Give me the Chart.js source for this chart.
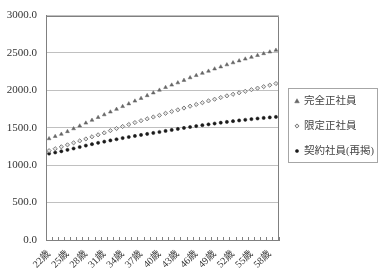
<!DOCTYPE html>
<html><head><meta charset="utf-8">
<script src="https://cdn.jsdelivr.net/npm/chart.js@4/dist/chart.umd.min.js"></script>
<style>html,body{margin:0;padding:0;background:#fff}canvas{display:block}</style>
</head><body>
<canvas id="c" width="380" height="272"></canvas>
<script>
const categories = ["22歳","23歳","24歳","25歳","26歳","27歳","28歳","29歳","30歳","31歳","32歳","33歳","34歳","35歳","36歳","37歳","38歳","39歳","40歳","41歳","42歳","43歳","44歳","45歳","46歳","47歳","48歳","49歳","50歳","51歳","52歳","53歳","54歳","55歳","56歳","57歳","58歳","59歳"];
const seriesNames = ["完全正社員","限定正社員","契約社員(再掲)"];
const fullRegular = [1355,1385,1415,1450,1488,1525,1564,1602,1639,1675,1712,1748,1785,1821,1858,1894,1931,1967,2004,2040,2072,2102,2135,2170,2200,2230,2258,2288,2315,2343,2370,2396,2420,2444,2468,2492,2515,2538];
const limitedRegular = [1194,1220,1246,1272,1299,1325,1351,1380,1406,1432,1462,1490,1518,1544,1570,1595,1620,1644,1667,1694,1718,1740,1764,1789,1812,1835,1860,1882,1905,1927,1948,1968,1988,2010,2030,2050,2070,2092];
const contractStaff = [1155,1170,1186,1205,1223,1243,1262,1281,1299,1315,1331,1347,1363,1377,1391,1405,1418,1431,1444,1458,1471,1485,1498,1511,1523,1535,1546,1557,1568,1579,1589,1598,1607,1616,1624,1632,1639,1646];
const yTicks = [0,500,1000,1500,2000,2500,3000];

const serif = '"Liberation Serif", "DejaVu Serif", "Noto Sans CJK JP", serif';

const styles = [
  {pointStyle:'triangle', radius:2.2, bg:'#666', border:'#666', bw:0.5},
  {pointStyle:'rectRot', radius:2.1, bg:'#e6e6e6', border:'#7a7a7a', bw:1},
  {pointStyle:'circle', radius:1.6, bg:'#1a1a1a', border:'#1a1a1a', bw:0.5}
];
const seriesData = [fullRegular, limitedRegular, contractStaff];

const frame = {
  id:'frame',
  afterDatasetsDraw(chart){
    const {ctx, chartArea:a} = chart;
    ctx.save();
    ctx.strokeStyle = '#808080'; ctx.lineWidth = 1;
    ctx.beginPath();
    ctx.moveTo(Math.round(a.left)+0.5, Math.round(a.top)+0.5);
    ctx.lineTo(Math.round(a.right)-0.5, Math.round(a.top)+0.5);
    ctx.lineTo(Math.round(a.right)-0.5, Math.round(a.bottom));
    ctx.stroke();
    // legend
    ctx.strokeStyle = '#a6a6a6';
    ctx.strokeRect(288.5, 88.5, 89, 74);
    const ys = [101, 126, 151];
    chart.data.datasets.forEach((ds, i) => {
      const x = 297, y = ys[i];
      const st = styles[i];
      ctx.fillStyle = st.bg; ctx.strokeStyle = st.border; ctx.lineWidth = st.bw;
      ctx.beginPath();
      if (st.pointStyle === 'triangle') {
        ctx.moveTo(x, y-2.3); ctx.lineTo(x+2.3, y+1.8); ctx.lineTo(x-2.3, y+1.8); ctx.closePath();
      } else if (st.pointStyle === 'rectRot') {
        ctx.moveTo(x, y-2.1); ctx.lineTo(x+2.1, y); ctx.lineTo(x, y+2.1); ctx.lineTo(x-2.1, y); ctx.closePath();
      } else {
        ctx.arc(x, y, 1.6, 0, Math.PI*2);
      }
      ctx.fill(); ctx.stroke();
      ctx.fillStyle = '#444';
      ctx.font = '10.5px ' + serif;
      ctx.textBaseline = 'middle';
      ctx.textAlign = 'left';
      ctx.fillText(ds.label, 304, y);
    });
    ctx.restore();
  }
};

new Chart(document.getElementById('c'), {
  type: 'line',
  data: {
    labels: categories,
    datasets: seriesData.map((d, i) => ({
      label: seriesNames[i],
      data: d,
      showLine: false,
      pointStyle: styles[i].pointStyle,
      pointRadius: styles[i].radius,
      pointBackgroundColor: styles[i].bg,
      pointBorderColor: styles[i].border,
      pointBorderWidth: styles[i].bw,
      pointHoverRadius: styles[i].radius
    }))
  },
  options: {
    responsive: false,
    animation: false,
    devicePixelRatio: 1,
    layout: {padding: {left: 0, top: 12, right: 101, bottom: 0}},
    plugins: {legend: {display: false}, tooltip: {enabled: false}},
    scales: {
      x: {
        type: 'category',
        offset: true,
        grid: {offset: true, drawOnChartArea: false, tickLength: -3, color: '#808080'},
        border: {color: '#808080'},
        ticks: {
          autoSkip: false, maxRotation: 45, minRotation: 45, padding: 11,
          color: '#333', font: {family: serif, size: 10},
          callback: function(v, i){ return i % 3 === 0 ? this.getLabelForValue(v) : ''; }
        },
        afterFit: s => { s.height = 32; }
      },
      y: {
        min: 0, max: 3000,
        afterBuildTicks: s => { s.ticks = yTicks.map(v => ({value: v})); },
        grid: {color: '#c0c0c0', drawTicks: false},
        border: {color: '#808080'},
        ticks: {
          padding: 9, color: '#333', font: {family: serif, size: 11},
          callback: v => Number(v).toFixed(1)
        },
        afterFit: s => { s.width = 46; }
      }
    }
  },
  plugins: [frame]
});
</script>
</body></html>
